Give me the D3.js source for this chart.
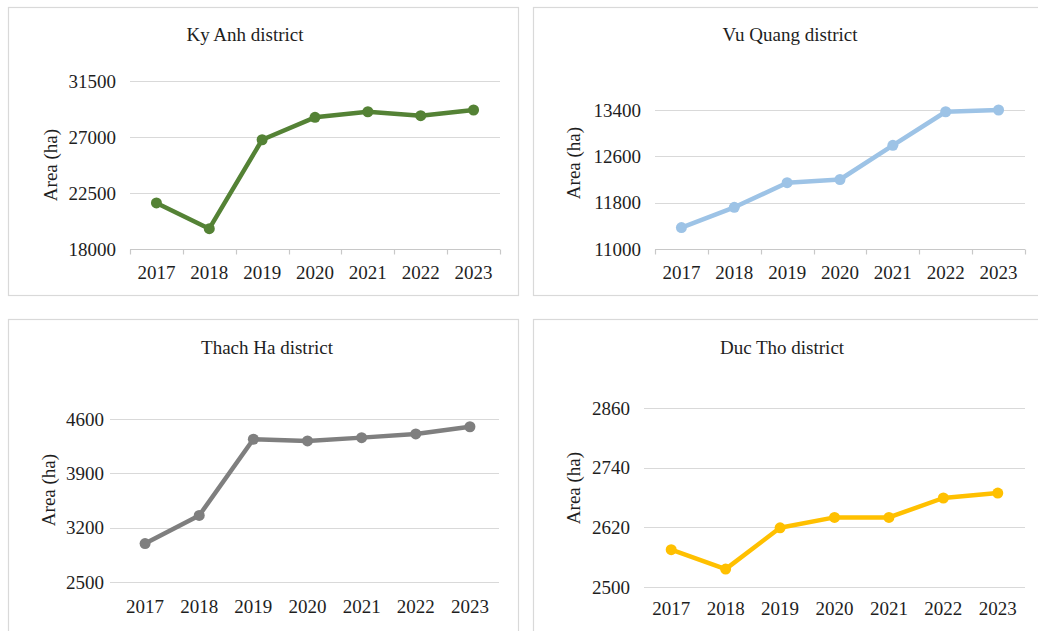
<!DOCTYPE html>
<html>
<head>
<meta charset="utf-8">
<script src="https://cdn.jsdelivr.net/npm/d3@7"></script>
<style>
  html, body { margin: 0; padding: 0; background: #ffffff; }
  svg { display: block; }
</style>
</head>
<body>
<svg id="chart" width="1038" height="631"></svg>
<script>
// ---------------- data ----------------
const years = ["2017", "2018", "2019", "2020", "2021", "2022", "2023"];

const kyAnhValues   = [21700, 19630, 26780, 28580, 29030, 28710, 29170];
const vuQuangValues = [11370, 11720, 12145, 12200, 12790, 13370, 13400];
const thachHaValues = [2995, 3357, 4339, 4317, 4360, 4407, 4500];
const ducThoValues  = [2575, 2536, 2619, 2640, 2640, 2679, 2689];

const kyAnhTicks   = [18000, 22500, 27000, 31500];
const vuQuangTicks = [11000, 11800, 12600, 13400];
const thachHaTicks = [2500, 3200, 3900, 4600];
const ducThoTicks  = [2500, 2620, 2740, 2860];

const panelTitles = ["Ky Anh district", "Vu  Quang district", "Thach Ha district", "Duc Tho district"];
const yAxisTitle = "Area (ha)";

// ---------------- layout / style ----------------
const FONT = "'Liberation Serif', 'Times New Roman', serif";
const TXT = "#1e1e1e";

const panels = [
  { title: panelTitles[0], values: kyAnhValues, ticks: kyAnhTicks, color: "#548235",
    box: [8, 7, 510, 288], px: [130, 500], py: [249, 81], gx: [130, 500],
    titleXY: [245, 41], yLab: [50, 165], xLabY: 279, axisTicks: true },
  { title: panelTitles[1], values: vuQuangValues, ticks: vuQuangTicks, color: "#9dc3e6",
    box: [533, 7, 520, 288], px: [655, 1025], py: [249, 110], gx: [655, 1025],
    titleXY: [790, 41], yLab: [573, 163], xLabY: 279, axisTicks: true },
  { title: panelTitles[2], values: thachHaValues, ticks: thachHaTicks, color: "#7f7f7f",
    box: [8, 319, 510, 330], px: [118, 497], py: [582, 419], gx: [110, 499],
    titleXY: [267, 354], yLab: [48, 490], xLabY: 613, axisTicks: false },
  { title: panelTitles[3], values: ducThoValues, ticks: ducThoTicks, color: "#ffc000",
    box: [533, 319, 520, 330], px: [644, 1025], py: [587, 408], gx: [644, 1025],
    titleXY: [782, 354], yLab: [573, 488], xLabY: 615, axisTicks: false }
];

const svg = d3.select("#chart").attr("font-family", FONT);

panels.forEach(p => {
  const g = svg.append("g");

  // panel border
  g.append("rect")
    .attr("x", p.box[0] + 0.5).attr("y", p.box[1] + 0.5)
    .attr("width", p.box[2]).attr("height", p.box[3])
    .attr("fill", "#ffffff").attr("stroke", "#d9d9d9").attr("stroke-width", 1.2);

  const x = d3.scaleBand().domain(years).range(p.px).padding(0);
  const y = d3.scaleLinear().domain([p.ticks[0], p.ticks[p.ticks.length - 1]]).range(p.py);

  // gridlines
  g.selectAll("line.grid").data(p.ticks).enter().append("line")
    .attr("class", "grid")
    .attr("x1", p.gx[0]).attr("x2", p.gx[1])
    .attr("y1", d => Math.round(y(d)) + 0.5).attr("y2", d => Math.round(y(d)) + 0.5)
    .attr("stroke", "#d9d9d9").attr("stroke-width", 1.2);

  // y axis labels
  const yAxis = d3.axisLeft(y).tickValues(p.ticks).tickSize(0).tickPadding(14).tickFormat(d3.format("d"));
  const ya = g.append("g").attr("transform", `translate(${p.px[0]},0)`).call(yAxis);
  ya.attr("font-family", FONT);
  ya.select(".domain").remove();
  ya.selectAll("text").style("font-size", "19px").style("font-family", FONT).attr("fill", TXT);

  // x axis
  const xAxis = d3.axisBottom(x).tickSize(0).tickPadding(0);
  const xa = g.append("g").attr("transform", `translate(0,${p.xLabY})`).call(xAxis);
  xa.attr("font-family", FONT);
  xa.select(".domain").remove();
  xa.selectAll("text").attr("dy", 0).attr("y", 0)
    .style("font-size", "19px").style("font-family", FONT).attr("fill", TXT);

  if (p.axisTicks) {
    const base = Math.round(y(p.ticks[0])) + 0.5;
    g.append("line").attr("x1", p.px[0]).attr("x2", p.px[1]).attr("y1", base).attr("y2", base)
      .attr("stroke", "#c8c8c8").attr("stroke-width", 1.2);
    const bounds = years.map(d => x(d)).concat([x(years[years.length - 1]) + x.bandwidth()]);
    g.selectAll("line.tk").data(bounds).enter().append("line")
      .attr("class", "tk")
      .attr("x1", d => Math.round(d) + 0.5).attr("x2", d => Math.round(d) + 0.5)
      .attr("y1", base).attr("y2", base + 5)
      .attr("stroke", "#c8c8c8").attr("stroke-width", 1.2);
  }

  // title
  g.append("text").attr("x", p.titleXY[0]).attr("y", p.titleXY[1])
    .attr("text-anchor", "middle")
    .style("font-family", FONT).style("font-size", "19px").attr("fill", TXT)
    .text(p.title);

  // y axis title
  g.append("text")
    .attr("transform", `translate(${p.yLab[0]},${p.yLab[1]}) rotate(-90)`)
    .attr("text-anchor", "middle").attr("dy", "0.35em")
    .style("font-family", FONT).style("font-size", "19px").attr("fill", TXT)
    .text(yAxisTitle);

  // line
  const line = d3.line().x((d, i) => x(years[i]) + x.bandwidth() / 2).y(d => y(d));
  g.append("path").datum(p.values)
    .attr("d", line).attr("fill", "none")
    .attr("stroke", p.color).attr("stroke-width", 4.5)
    .attr("stroke-linejoin", "round").attr("stroke-linecap", "round");

  g.selectAll("circle.pt").data(p.values).enter().append("circle")
    .attr("class", "pt")
    .attr("cx", (d, i) => x(years[i]) + x.bandwidth() / 2)
    .attr("cy", d => y(d))
    .attr("r", 5.5)
    .attr("fill", p.color);
});
</script>
</body>
</html>
